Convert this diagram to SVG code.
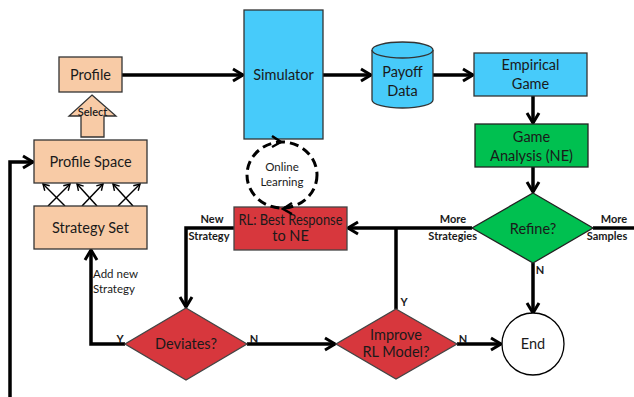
<svg xmlns="http://www.w3.org/2000/svg" width="634" height="397" viewBox="0 0 634 397">
<style>
  text { font-family: Lato, "Liberation Sans", sans-serif; fill: #1a1a1a; text-anchor: middle; }
  .t { font-size: 14.5px; }
  .s { font-size: 11px; font-weight: bold; }
  .m { font-size: 11.5px; }
  .peach { fill: #F8CBA6; stroke: #333; stroke-width: 1.3; }
  .blue { fill: #47CBFA; stroke: #333; stroke-width: 1.3; }
  .green { fill: #00C050; stroke: #222; stroke-width: 1.3; }
  .red { fill: #D7373D; stroke: #444; stroke-width: 1.3; }
  .c { fill: none; stroke: #000; stroke-width: 3.5; }
  .thin { fill: none; stroke: #000; stroke-width: 1.5; }
</style>
<defs>
  <marker id="arr" markerUnits="userSpaceOnUse" markerWidth="14" markerHeight="16" refX="11" refY="7" orient="auto" viewBox="0 0 14 14">
    <path d="M1,1 L11,7 L1,13" fill="none" stroke="#000" stroke-width="3" stroke-linejoin="miter"/>
  </marker>
  <marker id="sarr" markerUnits="userSpaceOnUse" markerWidth="10" markerHeight="10" refX="7" refY="4" orient="auto" viewBox="0 0 10 8">
    <path d="M1,0.5 L7,4 L1,7.5" fill="none" stroke="#000" stroke-width="1.4"/>
  </marker>
</defs>
<rect width="634" height="397" fill="#fff"/>

<g id="connectors">
  <polyline class="c" points="10,397 10,162 33,162" marker-end="url(#arr)"/>
  <line class="thin" x1="48" y1="206" x2="70" y2="184" marker-end="url(#sarr)"/>
  <line class="thin" x1="65" y1="206" x2="43" y2="184" marker-end="url(#sarr)"/>
  <line class="thin" x1="82" y1="206" x2="103" y2="184" marker-end="url(#sarr)"/>
  <line class="thin" x1="97" y1="206" x2="77" y2="184" marker-end="url(#sarr)"/>
  <line class="thin" x1="118" y1="206" x2="140" y2="184" marker-end="url(#sarr)"/>
  <line class="thin" x1="133" y1="206" x2="113" y2="184" marker-end="url(#sarr)"/>
  <line class="c" x1="122" y1="75" x2="243" y2="75" marker-end="url(#arr)"/>
  <line class="c" x1="323" y1="75" x2="371" y2="75" marker-end="url(#arr)"/>
  <line class="c" x1="433" y1="75" x2="473" y2="75" marker-end="url(#arr)"/>
  <line class="c" x1="533" y1="96" x2="533" y2="123" marker-end="url(#arr)"/>
  <line class="c" x1="533" y1="167" x2="533" y2="192" marker-end="url(#arr)"/>
  <line class="c" x1="472" y1="228" x2="348" y2="228" marker-end="url(#arr)"/>
  <line class="c" x1="593" y1="228" x2="634" y2="228"/>
  <line class="c" x1="533" y1="263" x2="533" y2="313" marker-end="url(#arr)"/>
  <polyline class="c" points="234,228 186,228 186,307" marker-end="url(#arr)"/>
  <polyline class="c" points="125,344 91,344 91,250" marker-end="url(#arr)"/>
  <line class="c" x1="247" y1="344" x2="335" y2="344" marker-end="url(#arr)"/>
  <line class="c" x1="396" y1="309" x2="396" y2="228"/>
  <line class="c" x1="457" y1="344" x2="501" y2="344" marker-end="url(#arr)"/>
  <text class="s" x="453" y="223">More</text>
  <text class="s" x="452" y="240" style="text-anchor:end" transform="translate(25,0)">Strategies</text>
  <text class="s" x="614" y="223">More</text>
  <text class="s" x="607" y="240">Samples</text>
  <text class="s" x="540" y="274">N</text>
  <text class="s" x="212" y="223">New</text>
  <text class="s" x="209" y="240">Strategy</text>
  <text class="m" x="93" y="278" style="text-anchor:start">Add new</text>
  <text class="m" x="93" y="293" style="text-anchor:start">Strategy</text>
  <text class="s" x="120" y="343">Y</text>
  <text class="s" x="254" y="343">N</text>
  <text class="s" x="404" y="306">Y</text>
  <text class="s" x="463" y="343">N</text>
</g>

<g id="profile">
  <rect class="peach" x="59" y="57" width="63" height="35"/>
  <text class="t" x="90.5" y="80">Profile</text>
</g>
<g id="select">
  <polygon class="peach" points="92,95 116,116 104,116 104,137 81,137 81,116 69,116" stroke-width="1"/>
  <text x="92.5" y="116" style="font-size:11px;font-weight:600">Select</text>
</g>
<g id="profile-space">
  <rect class="peach" x="34" y="140" width="113" height="43"/>
  <text class="t" x="90.5" y="167">Profile Space</text>
</g>
<g id="strategy-set">
  <rect class="peach" x="34" y="206" width="113" height="43"/>
  <text class="t" x="90.5" y="233">Strategy Set</text>
</g>
<g id="simulator">
  <rect class="blue" x="244" y="10" width="79" height="129"/>
  <text class="t" x="283.5" y="80">Simulator</text>
</g>
<g id="payoff-data">
  <path class="blue" d="M372,50 L372,100 A30.5,8 0 0 0 433,100 L433,50"/>
  <ellipse class="blue" cx="402.5" cy="50" rx="30.5" ry="8"/>
  <text class="t" x="402.5" y="77">Payoff</text>
  <text class="t" x="402.5" y="96">Data</text>
</g>
<g id="empirical-game">
  <rect class="blue" x="474" y="53" width="113" height="43"/>
  <text class="t" x="530.5" y="70">Empirical</text>
  <text class="t" x="530.5" y="89">Game</text>
</g>
<g id="game-analysis">
  <rect class="green" x="475" y="124" width="113" height="43"/>
  <text class="t" x="531.5" y="142">Game</text>
  <text class="t" x="531.5" y="161">Analysis (NE)</text>
</g>
<g id="refine">
  <polygon class="green" points="533,193 593,228 533,263 472,228"/>
  <text class="t" x="533" y="234">Refine?</text>
</g>
<g id="end">
  <circle cx="533" cy="344" r="31" fill="#fff" stroke="#000" stroke-width="1.3"/>
  <text class="t" x="533" y="349">End</text>
</g>
<g id="rl">
  <rect class="red" x="234" y="207" width="113" height="43"/>
  <text class="t" x="290.5" y="225" textLength="104" lengthAdjust="spacingAndGlyphs">RL: Best Response</text>
  <text class="t" x="290.5" y="241">to NE</text>
</g>
<g id="online-learning">
  <ellipse cx="282" cy="175" rx="35" ry="33" fill="none" stroke="#000" stroke-width="3" stroke-dasharray="9,5"/>
  <path d="M272,136 L281,142 L272,147" fill="none" stroke="#000" stroke-width="2.5"/>
  <path d="M292,203 L283,209 L292,214" fill="none" stroke="#000" stroke-width="2.5"/>
  <text class="m" x="282" y="171">Online</text>
  <text class="m" x="282" y="186">Learning</text>
</g>
<g id="deviates">
  <polygon class="red" points="186,308 247,344 186,380 125,344"/>
  <text class="t" x="186" y="349">Deviates?</text>
</g>
<g id="improve">
  <polygon class="red" points="396,309 457,344 396,379 336,344"/>
  <text class="t" x="396" y="340">Improve</text>
  <text class="t" x="396" y="357">RL Model?</text>
</g>
</svg>
